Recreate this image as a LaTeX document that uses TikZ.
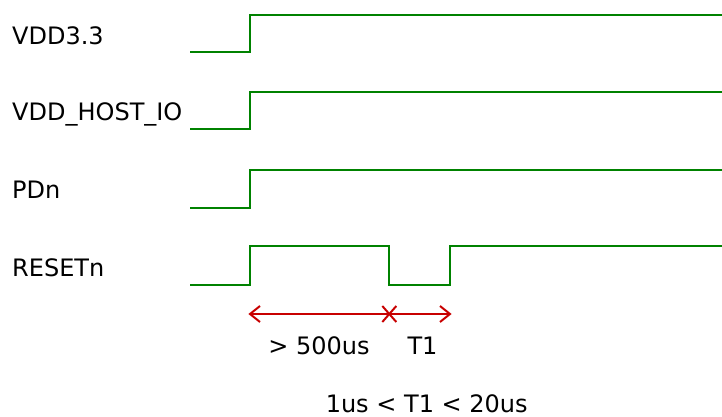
\documentclass[tikz,border=0pt]{standalone}
\usepackage{fontspec}
\setmainfont{DejaVu Sans}
\definecolor{sig}{RGB}{0,130,0}
\definecolor{mark}{RGB}{200,0,0}
\begin{document}
\begin{tikzpicture}[x=1pt,y=-1pt,
  wave/.style={draw=sig,line width=2.2pt,line join=miter},
  lbl/.style={anchor=base west,inner sep=0pt,font=\fontsize{24}{28}\selectfont},
  ann/.style={anchor=base,inner sep=0pt,font=\fontsize{24}{28}\selectfont},
  dim/.style={draw=mark,line width=2pt}]
\useasboundingbox (0,0) rectangle (722,417);
% labels
\node[lbl] (l1) at (12,44.5) {VDD3.3};
\node[lbl] (l2) at (12,121) {VDD\_HOST\_IO};
\node[lbl] (l3) at (12,198.3) {PDn};
\node[lbl] (l4) at (12,276) {RESETn};
% waveforms
\draw[wave] (190,52) -- (250,52) -- (250,15) -- (722,15);
\draw[wave] (190,129) -- (250,129) -- (250,92) -- (722,92);
\draw[wave] (190,208) -- (250,208) -- (250,170) -- (722,170);
\draw[wave] (190,285) -- (250,285) -- (250,246) -- (389,246) -- (389,285) -- (450,285) -- (450,246) -- (722,246);
% timing markers
\coordinate (a) at (250,314);
\coordinate (m) at (389.3,314);
\coordinate (b) at (450,314);
\draw[dim] (a) -- (b);
\draw[dim,line join=miter] ([shift={(10,-8)}]a) -- (a) -- ([shift={(10,8)}]a);
\draw[dim,line join=miter] ([shift={(-10,-8)}]b) -- (b) -- ([shift={(-10,8)}]b);
\draw[dim] ([shift={(-7,-8)}]m) -- ([shift={(7,8)}]m);
\draw[dim] ([shift={(-7,8)}]m) -- ([shift={(7,-8)}]m);
\node[ann] (t0) at (319,354.7) {> 500us};
\node[ann] (t1) at (422.5,354.7) {T1};
\node[ann] (t2) at (426.7,412.7) {1us < T1 < 20us};
\end{tikzpicture}
\end{document}
